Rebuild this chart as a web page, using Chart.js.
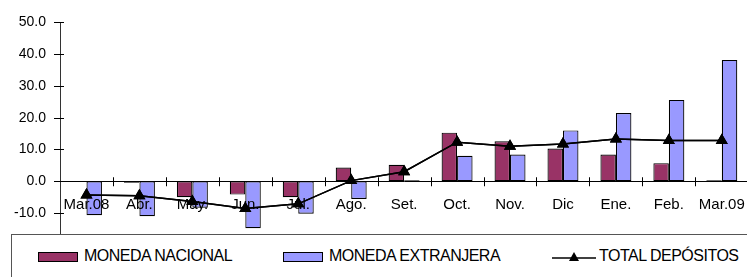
<!DOCTYPE html>
<html>
<head>
<meta charset="utf-8">
<script src="https://cdn.jsdelivr.net/npm/chart.js@4/dist/chart.umd.min.js"></script>
<style>
  html, body { margin:0; padding:0; background:#fff; overflow:hidden; }
  #wrap { position:relative; width:760px; height:277px; }
  #chart { position:absolute; left:0; top:0; }
  #legend {
    position:absolute; left:11px; top:234px; width:800px; height:80px;
    border:1px solid #555; background:#fff; box-sizing:border-box;
    font-family:"Liberation Sans", Arial, sans-serif; font-size:16px; letter-spacing:-0.5px;
  }
  .sw { position:absolute; top:17px; width:40px; height:10px; border:1px solid #000; box-sizing:border-box; }
  .lbl { position:absolute; top:13px; line-height:16px; white-space:nowrap; color:#000; }
  .ln { position:absolute; top:12px; }
</style>
</head>
<body>
<div id="wrap">
  <canvas id="chart" width="760" height="277"></canvas>
  <div id="legend"></div>
</div>
<script>
const months = ["Mar.08","Abr.","May.","Jun.","Jul.","Ago.","Set.","Oct.","Nov.","Dic","Ene.","Feb.","Mar.09"];
const monedaNacional   = [0, -0.5, -5.0, -4.2, -5.0, 4.3, 5.2, 15.3, 12.6, 10.3, 8.4, 5.7, 0.3];
const monedaExtranjera = [-10.7, -11.0, -8.3, -14.8, -10.2, -5.6, 0.3, 8.0, 8.4, 16.0, 21.5, 25.6, 38.2];
const totalDepositos   = [-4.3, -4.6, -6.4, -8.6, -7.1, 0.2, 3.0, 12.3, 11.0, 11.7, 13.3, 12.8, 12.8];
const yTicks = [-10, 0, 10, 20, 30, 40, 50];

const FONT = "'Liberation Sans', Arial, sans-serif";

// Excel style tick marks that cross the axis lines, then the line series again on top of the labels
const crossTicks = {
  id: "crossTicks",
  afterDraw(chart){
    const ctx = chart.ctx, x = chart.scales.x, y = chart.scales.y;
    const y0 = y.getPixelForValue(0);
    ctx.save();
    ctx.strokeStyle = "#000";
    ctx.lineWidth = 1;
    ctx.beginPath();
    yTicks.forEach(v => {
      const py = Math.round(y.getPixelForValue(v)) + 0.5;
      ctx.moveTo(x.left - 6, py); ctx.lineTo(x.left + 4, py);
    });
    const step = (x.right - x.left) / months.length;
    for (let i = 1; i <= months.length; i++){
      const px = Math.round(x.left + i*step) + 0.5;
      ctx.moveTo(px, y0 - 4); ctx.lineTo(px, y0 + 5);
    }
    ctx.stroke();
    ctx.restore();
    chart.getDatasetMeta(0).controller.draw();
  }
};

new Chart(document.getElementById("chart"), {
  data: {
    labels: months,
    datasets: [
      { type:"line", label:"TOTAL DEPÓSITOS", data: totalDepositos, order:0,
        borderColor:"#000", borderWidth:1.5, backgroundColor:"#000",
        pointStyle:"triangle", pointRadius:5.5, pointBackgroundColor:"#000", pointBorderColor:"#000", tension:0 },
      { type:"bar", label:"MONEDA NACIONAL", data: monedaNacional, order:1,
        backgroundColor:"#993366", borderColor:"#000", borderWidth:1.2, borderSkipped:false,
        categoryPercentage:0.585, barPercentage:1 },
      { type:"bar", label:"MONEDA EXTRANJERA", data: monedaExtranjera, order:1,
        backgroundColor:"#9999FF", borderColor:"#000", borderWidth:1.2, borderSkipped:false,
        categoryPercentage:0.585, barPercentage:1 }
    ]
  },
  options: {
    responsive:false,
    animation:false,
    devicePixelRatio:1,
    layout: { padding: { left:0, top:19, right:4.5, bottom:43 } },
    plugins: { legend:{ display:false }, tooltip:{ enabled:false } },
    scales: {
      x: {
        position: { y: 0 },
        grid: { display:false, drawTicks:false },
        border: { display:true, color:"#000", width:1 },
        ticks: { z:1, color:"#000", font:{ family:FONT, size:15 }, padding:15, maxRotation:0, autoSkip:false }
      },
      y: {
        min:-16.6, max:50,
        afterBuildTicks: s => { s.ticks = yTicks.map(v => ({ value:v })); },
        afterFit: s => { s.width = 60; },
        grid: { display:false, drawTicks:false },
        border: { display:true, color:"#333", width:1 },
        ticks: { color:"#000", font:{ family:FONT, size:14 }, padding:14,
                 callback: v => Number(v).toFixed(1) }
      }
    }
  },
  plugins: [crossTicks]
});

// legend drawn as html, like the boxed Excel legend
const legendItems = [
  { kind:"bar",  color:"#993366", text:"MONEDA NACIONAL",   sx:26,  tx:72 },
  { kind:"bar",  color:"#9999FF", text:"MONEDA EXTRANJERA", sx:271, tx:317 },
  { kind:"line", color:"#000",    text:"TOTAL DEPÓSITOS",   sx:540, tx:587 }
];
const lg = document.getElementById("legend");
legendItems.forEach(it => {
  if (it.kind === "bar"){
    const s = document.createElement("div");
    s.className = "sw"; s.style.left = it.sx + "px"; s.style.background = it.color;
    lg.appendChild(s);
  } else {
    const s = document.createElement("div");
    s.className = "ln"; s.style.left = it.sx + "px";
    s.innerHTML = '<svg width="45" height="12"><line x1="0" y1="9" x2="44" y2="9" stroke="#000" stroke-width="1.5"/>' +
                  '<polygon points="22,3 27,12 17,12" fill="#000"/></svg>';
    lg.appendChild(s);
  }
  const t = document.createElement("div");
  t.className = "lbl"; t.style.left = it.tx + "px"; t.textContent = it.text;
  lg.appendChild(t);
});
</script>
</body>
</html>
